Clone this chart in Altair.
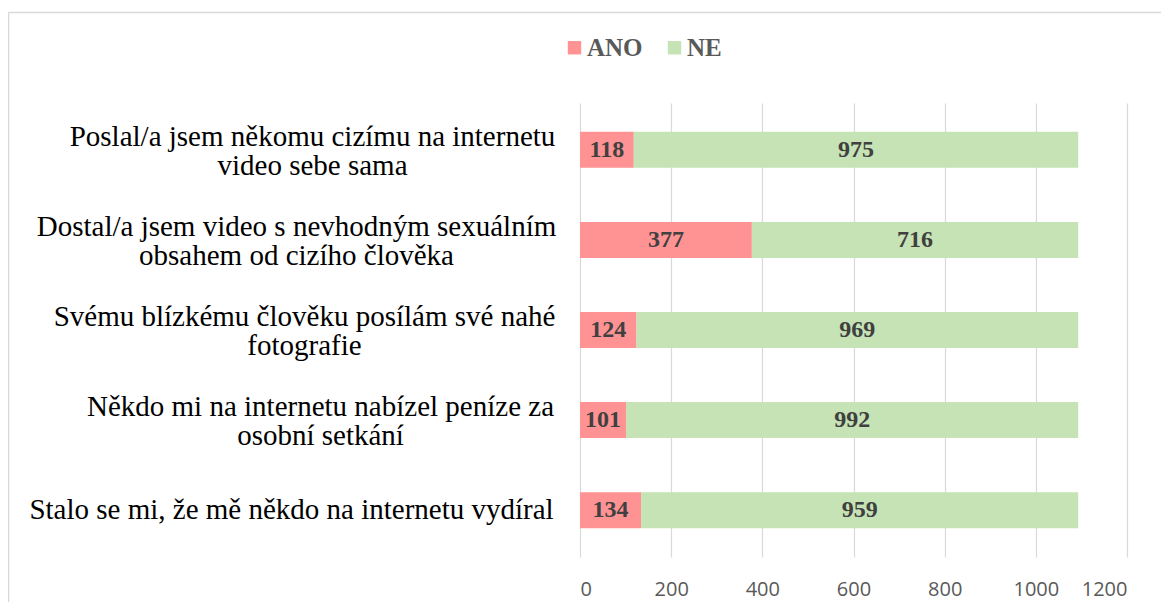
import altair as alt
import pandas as pd

questions = [
    "Poslal/a jsem někomu cizímu na internetu\nvideo sebe sama",
    "Dostal/a jsem video s nevhodným sexuálním\nobsahem od cizího člověka",
    "Svému blízkému člověku posílám své nahé\nfotografie",
    "Někdo mi na internetu nabízel peníze za\nosobní setkání",
    "Stalo se mi, že mě někdo na internetu vydíral",
]
series = ["ANO", "NE"]
ano = [118, 377, 124, 101, 134]
ne = [975, 716, 969, 992, 959]
x_ticks = [0, 200, 400, 600, 800, 1000, 1200]
colors = ["#FF9393", "#C5E3B5"]

rows = []
for i, q in enumerate(questions):
    start = 0
    for s, v in zip(series, [ano[i], ne[i]]):
        rows.append({"q": q, "s": s, "v": v, "start": start, "end": start + v,
                     "mid": start + v / 2})
        start += v
df = pd.DataFrame(rows)

serif = "Liberation Serif"

# label block: lines centred among themselves, block right-aligned
label_pad = {
    "condition": [
        {"test": "indexof(datum.value, 'Poslal') == 0", "value": 268},
        {"test": "indexof(datum.value, 'Dostal') == 0", "value": 284},
        {"test": "indexof(datum.value, 'Sv') == 0", "value": 276},
        {"test": "indexof(datum.value, 'N') == 0", "value": 260},
    ],
    "value": 289,
}
label_off = {
    "condition": {"test": "indexof(datum.value, '\\n') >= 0", "value": -13},
    "value": 0,
}

y_enc = alt.Y(
    "q:N", sort=questions, title=None,
    scale=alt.Scale(paddingInner=0.6, paddingOuter=0.32),
    axis=alt.Axis(
        labelExpr="split(datum.label, '\\n')",
        labelFont=serif, labelFontSize=29, labelColor="#000000",
        labelLineHeight=29, labelAlign="center", labelBaseline="middle",
        labelPadding=label_pad, labelOffset=label_off,
        labelLimit=0, ticks=False, tickSize=0,
        domain=False, grid=False,
    ),
)
x_scale = alt.Scale(domain=[0, 1200], nice=False)

bars = alt.Chart(df).mark_bar().encode(
    y=y_enc,
    x=alt.X("start:Q", scale=x_scale, title=None,
            axis=alt.Axis(values=x_ticks, format="d", grid=True,
                          gridColor="#D9D9D9", gridWidth=1.2, domain=False,
                          ticks=False, tickSize=0,
                          labelFont="Open Sans", labelFontSize=20,
                          labelColor="#595959", labelPadding=22)),
    x2="end:Q",
    color=alt.Color("s:N", sort=series,
                    scale=alt.Scale(domain=series, range=colors),
                    legend=alt.Legend(
                        title=None, orient="none", direction="horizontal",
                        legendX=-18, legendY=-68, symbolType="square",
                        symbolSize=180, symbolStrokeWidth=0,
                        labelFont=serif, labelFontWeight="bold",
                        labelFontSize=25, labelColor="#595959",
                        labelOffset=0, columnPadding=19, padding=0)),
)

labels = alt.Chart(df).mark_text(
    font=serif, fontWeight="bold", fontSize=24, color="#404040",
    baseline="middle", align="center",
).encode(
    y=alt.Y("q:N", sort=questions),
    x=alt.X("mid:Q", scale=x_scale),
    text="v:Q",
)

frame_df = pd.DataFrame({"k": [0]})
left_rule = alt.Chart(frame_df).mark_rule(color="#D9D9D9", strokeWidth=1.5).encode(
    x=alt.value(-571.5), y=alt.value(-90.5), y2=alt.value(520)
)
top_rule = alt.Chart(frame_df).mark_rule(color="#D9D9D9", strokeWidth=1.5).encode(
    x=alt.value(-571.5), x2=alt.value(620), y=alt.value(-90.5)
)

chart = alt.layer(bars, labels, left_rule, top_rule).properties(
    width=547, height=454,
    autosize=alt.AutoSizeParams(type="none"),
    padding={"left": 572, "top": 95, "right": 34, "bottom": 45},
).configure(background="white").configure_view(stroke=None)

chart.save("out.html", embed_options={"renderer": "svg", "actions": False})
